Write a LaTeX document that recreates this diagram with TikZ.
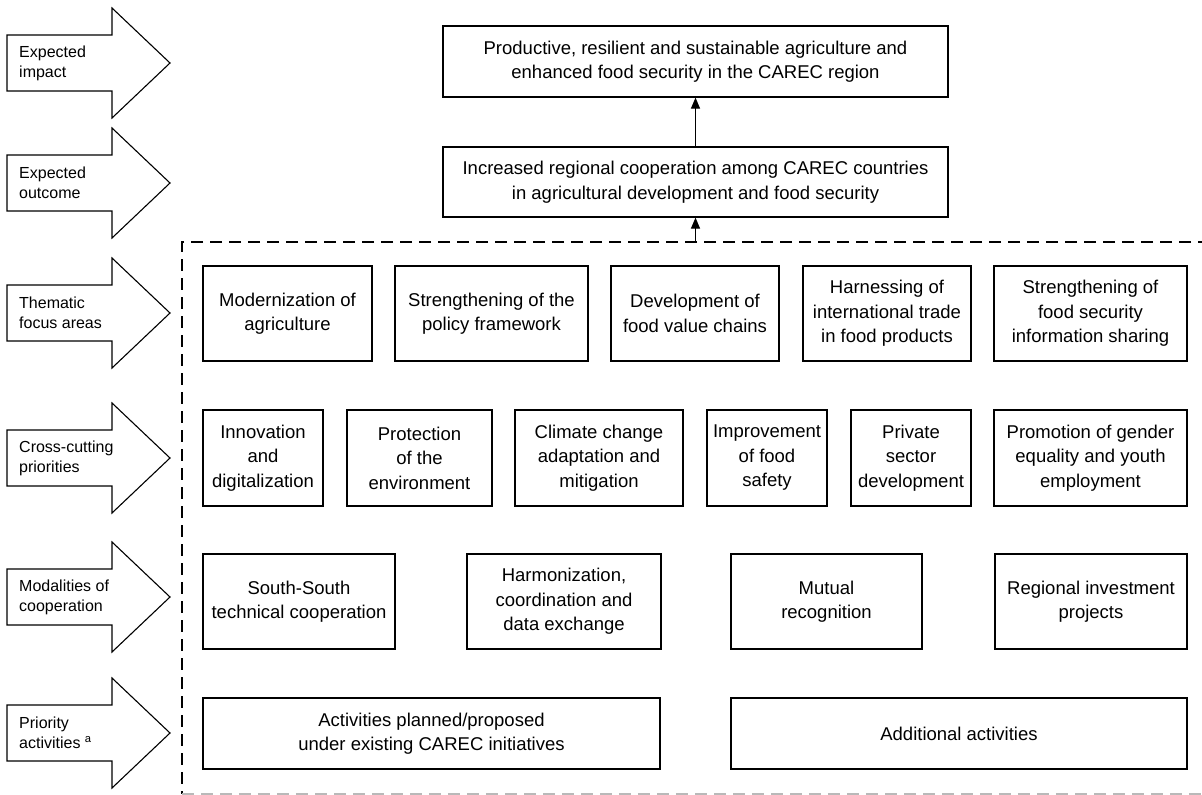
\documentclass[tikz,border=0pt]{standalone}
\usepackage{fontspec}
\setmainfont{Liberation Sans}
\usetikzlibrary{arrows.meta}
\tikzset{
  box/.style={draw, line width=1.2pt, align=center, inner sep=0pt,
    font=\fontsize{18.5}{24.5}\selectfont},
  lbl/.style={anchor=west, align=left, inner sep=0pt,
    font=\fontsize{16}{20}\selectfont},
  bigarrow/.style={draw, line width=1.1pt, fill=white, line join=miter},
  frame/.style={line width=1.1pt, dash pattern=on 12pt off 7pt},
  conn/.style={line width=1.2pt, -{Triangle[width=9pt,length=11pt]}}
}
\newcommand\bx[6]{\node[box, minimum width={(#4-#2)*1pt}, minimum height={(#5-#3)*1pt}] (#1) at ({(#2+#4)/2},{(#3+#5)/2}) {#6};}
\newcommand\bigarr[4]{%
  \draw[bigarrow] (7,#2-28) -- (112,#2-28) -- (112,#2-55) -- (170,#2) -- (112,#2+55) -- (112,#2+28) -- (7,#2+28) -- cycle;
  \node[lbl] (#1) at (19,#2) {#3#4};}
\begin{document}
\begin{tikzpicture}[x=1pt,y=-1pt]
\useasboundingbox (0,0) rectangle (1202,795);
% left arrows
\bigarr{limpact}{63}{Expected\\impact}{}
\bigarr{loutcome}{183}{Expected\\outcome}{}
\bigarr{lthem}{313}{Thematic\\focus areas}{}
\bigarr{lcross}{458}{Cross-cutting\\priorities}{}
\bigarr{lmod}{597}{Modalities of\\cooperation}{}
\bigarr{lprio}{733}{Priority\\activities \textsuperscript{a}}{}
% dashed frame
\begin{scope}
\clip (0,0) rectangle (1202,795);
\draw[frame] (1210,242) -- (182,242) -- (182,794);
\draw[frame, gray!55] (182,794) -- (1210,794);
\end{scope}
\coordinate (ftop) at (695.5,242);
% top boxes
\bx{impact}{443}{26}{948}{97}{Productive, resilient and sustainable agriculture and\\enhanced food security in the CAREC region}
\bx{outcome}{443}{147}{948}{217}{Increased regional cooperation among CAREC countries\\in agricultural development and food security}
\draw[conn] (outcome.north) -- (impact.south);
\draw[conn] (ftop) -- (outcome.south);
% row 1
\bx{t1}{203}{266}{372}{361}{Modernization of\\agriculture}
\bx{t2}{395}{266}{588}{361}{Strengthening of the\\policy framework}
\bx{t3}{611}{266}{779}{361}{Development of\\food value chains}
\bx{t4}{803}{266}{971}{361}{Harnessing of\\international trade\\in food products}
\bx{t5}{994}{266}{1187}{361}{Strengthening of\\food security\\information sharing}
% row 2
\bx{c1}{203}{410}{323}{506}{Innovation\\and\\digitalization}
\bx{c2}{347}{410}{492}{506}{Protection\\of the\\environment}
\bx{c3}{515}{410}{683}{506}{Climate change\\adaptation and\\mitigation}
\bx{c4}{707}{410}{827}{506}{Improvement\\of food\\safety}
\bx{c5}{851}{410}{971}{506}{Private\\sector\\development}
\bx{c6}{994}{410}{1187}{506}{Promotion of gender\\equality and youth\\employment}
% row 3
\bx{m1}{203}{554}{395}{649}{South-South\\technical cooperation}
\bx{m2}{467}{554}{661}{649}{Harmonization,\\coordination and\\data exchange}
\bx{m3}{731}{554}{922}{649}{Mutual\\recognition}
\bx{m4}{995}{554}{1187}{649}{Regional investment\\projects}
% row 4
\bx{p1}{203}{698}{660}{769}{Activities planned/proposed\\under existing CAREC initiatives}
\bx{p2}{731}{698}{1187}{769}{Additional activities}
\end{tikzpicture}
\end{document}
